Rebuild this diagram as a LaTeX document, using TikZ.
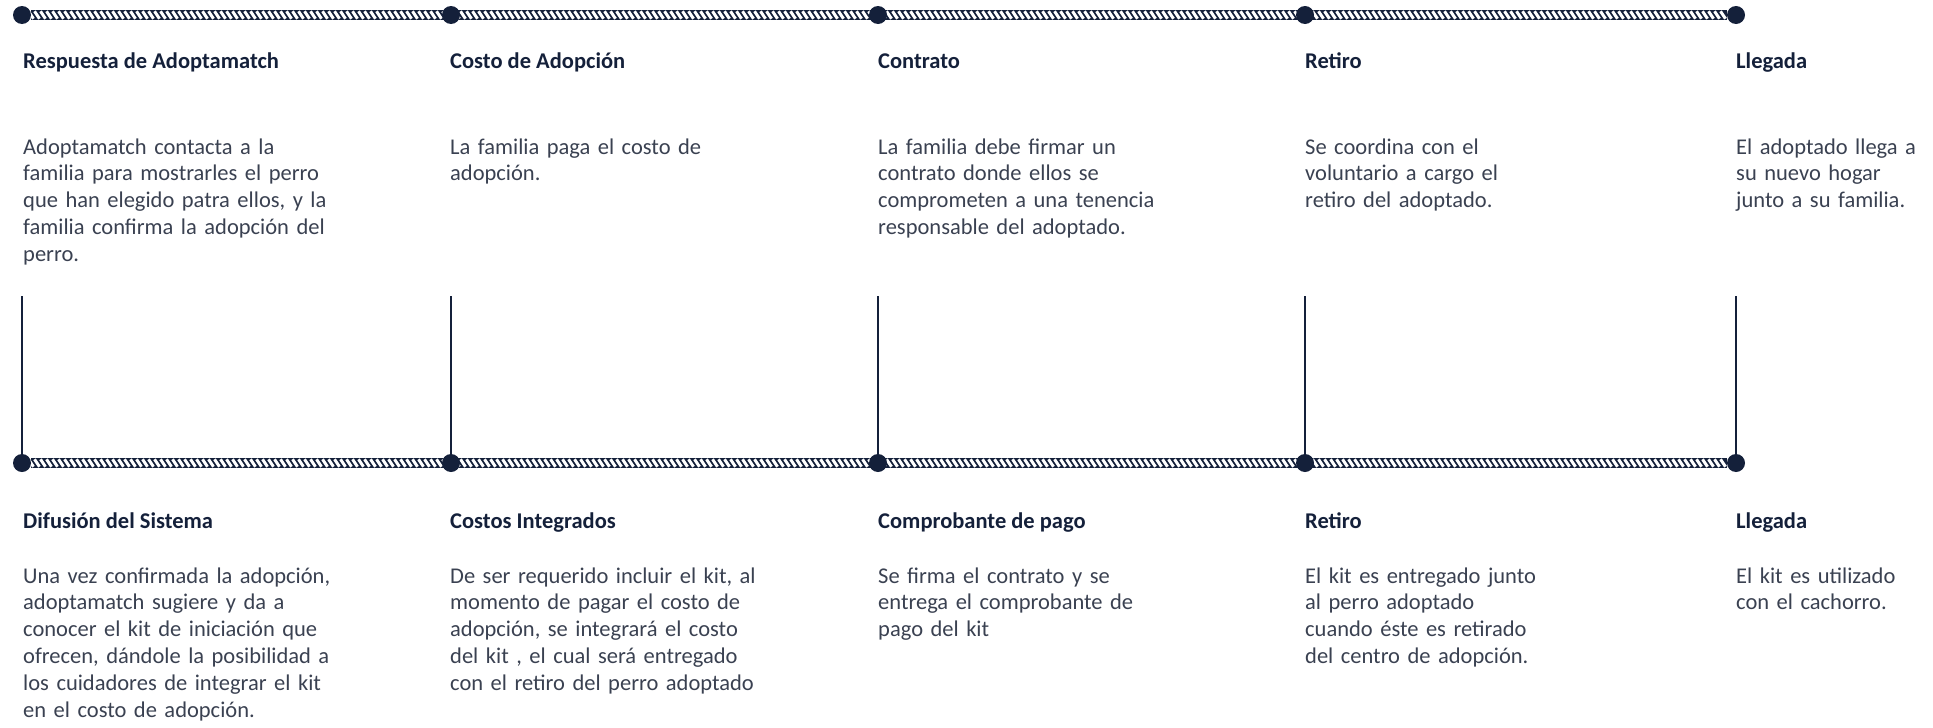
\documentclass[tikz,border=0pt]{standalone}
\usepackage{fontspec}
\setmainfont{Carlito}
\usetikzlibrary{backgrounds}
\definecolor{navy}{HTML}{14203A}
\definecolor{inkgray}{HTML}{3A4151}

\begin{document}
\begin{tikzpicture}[x=1pt,y=1pt,
	dot/.style={circle,fill=navy,inner sep=0pt,minimum size=18pt},
	rope/.style={draw=navy,line width=10pt},
	strand/.style={white,line width=3pt},
	post/.style={draw=navy,line width=2.2pt},
	ttl/.style={anchor=base west,inner sep=0pt,text=navy,font=\bfseries\fontsize{22.5}{26.8}\selectfont},
	txt/.style={anchor=base west,inner sep=0pt,text width=400pt,align=left,text=inkgray,font=\fontsize{22.5}{26.8}\selectfont}]
	\useasboundingbox (0,0) rectangle (1933,-728);
	\foreach \i/\x in {1/22,2/451,3/878,4/1305,5/1736} {
		\node[dot] (t\i) at (\x,-15) {};
		\node[dot] (b\i) at (\x,-463) {};
		\coordinate (v\i) at (\x,-296);
	}
	\begin{scope}[on background layer]
		\draw[rope] (t1) -- (t5);
		\draw[rope] (b1) -- (b5);
		\foreach \x in {31,37,...,1728} {
			\draw[strand] (\x-2.5,-11.3) -- (\x+2.5,-18.7);
			\draw[strand] (\x-2.5,-459.3) -- (\x+2.5,-466.7);
		}
		\foreach \i in {1,...,5}
			\draw[post] (v\i) -- (b\i);
	\end{scope}

	\node[ttl] (h1) at (23,-68) {Respuesta de Adoptamatch};
	\node[txt] (d1) at (23,-154) {Adoptamatch contacta a la\\familia para mostrarles el perro\\que han elegido patra ellos, y la\\familia confirma la adopción del\\perro.};
	\node[ttl] (h2) at (450,-68) {Costo de Adopción};
	\node[txt] (d2) at (450,-154) {La familia paga el costo de\\adopción.};
	\node[ttl] (h3) at (878,-68) {Contrato};
	\node[txt] (d3) at (878,-154) {La familia debe firmar un\\contrato donde ellos se\\comprometen a una tenencia\\responsable del adoptado.};
	\node[ttl] (h4) at (1305,-68) {Retiro};
	\node[txt] (d4) at (1305,-154) {Se coordina con el\\voluntario a cargo el\\retiro del adoptado.};
	\node[ttl] (h5) at (1736,-68) {Llegada};
	\node[txt] (d5) at (1736,-154) {El adoptado llega a\\su nuevo hogar\\junto a su familia.};

	\node[ttl] (g1) at (23,-528) {Difusión del Sistema};
	\node[txt] (e1) at (23,-583) {Una vez confirmada la adopción,\\adoptamatch sugiere y da a\\conocer el kit de iniciación que\\ofrecen, dándole la posibilidad a\\los cuidadores de integrar el kit\\en el costo de adopción.};
	\node[ttl] (g2) at (450,-528) {Costos Integrados};
	\node[txt] (e2) at (450,-583) {De ser requerido incluir el kit, al\\momento de pagar el costo de\\adopción, se integrará el costo\\del kit , el cual será entregado\\con el retiro del perro adoptado};
	\node[ttl] (g3) at (878,-528) {Comprobante de pago};
	\node[txt] (e3) at (878,-583) {Se firma el contrato y se\\entrega el comprobante de\\pago del kit};
	\node[ttl] (g4) at (1305,-528) {Retiro};
	\node[txt] (e4) at (1305,-583) {El kit es entregado junto\\al perro adoptado\\cuando éste es retirado\\del centro de adopción.};
	\node[ttl] (g5) at (1736,-528) {Llegada};
	\node[txt] (e5) at (1736,-583) {El kit es utilizado\\con el cachorro.};
\end{tikzpicture}
\end{document}
